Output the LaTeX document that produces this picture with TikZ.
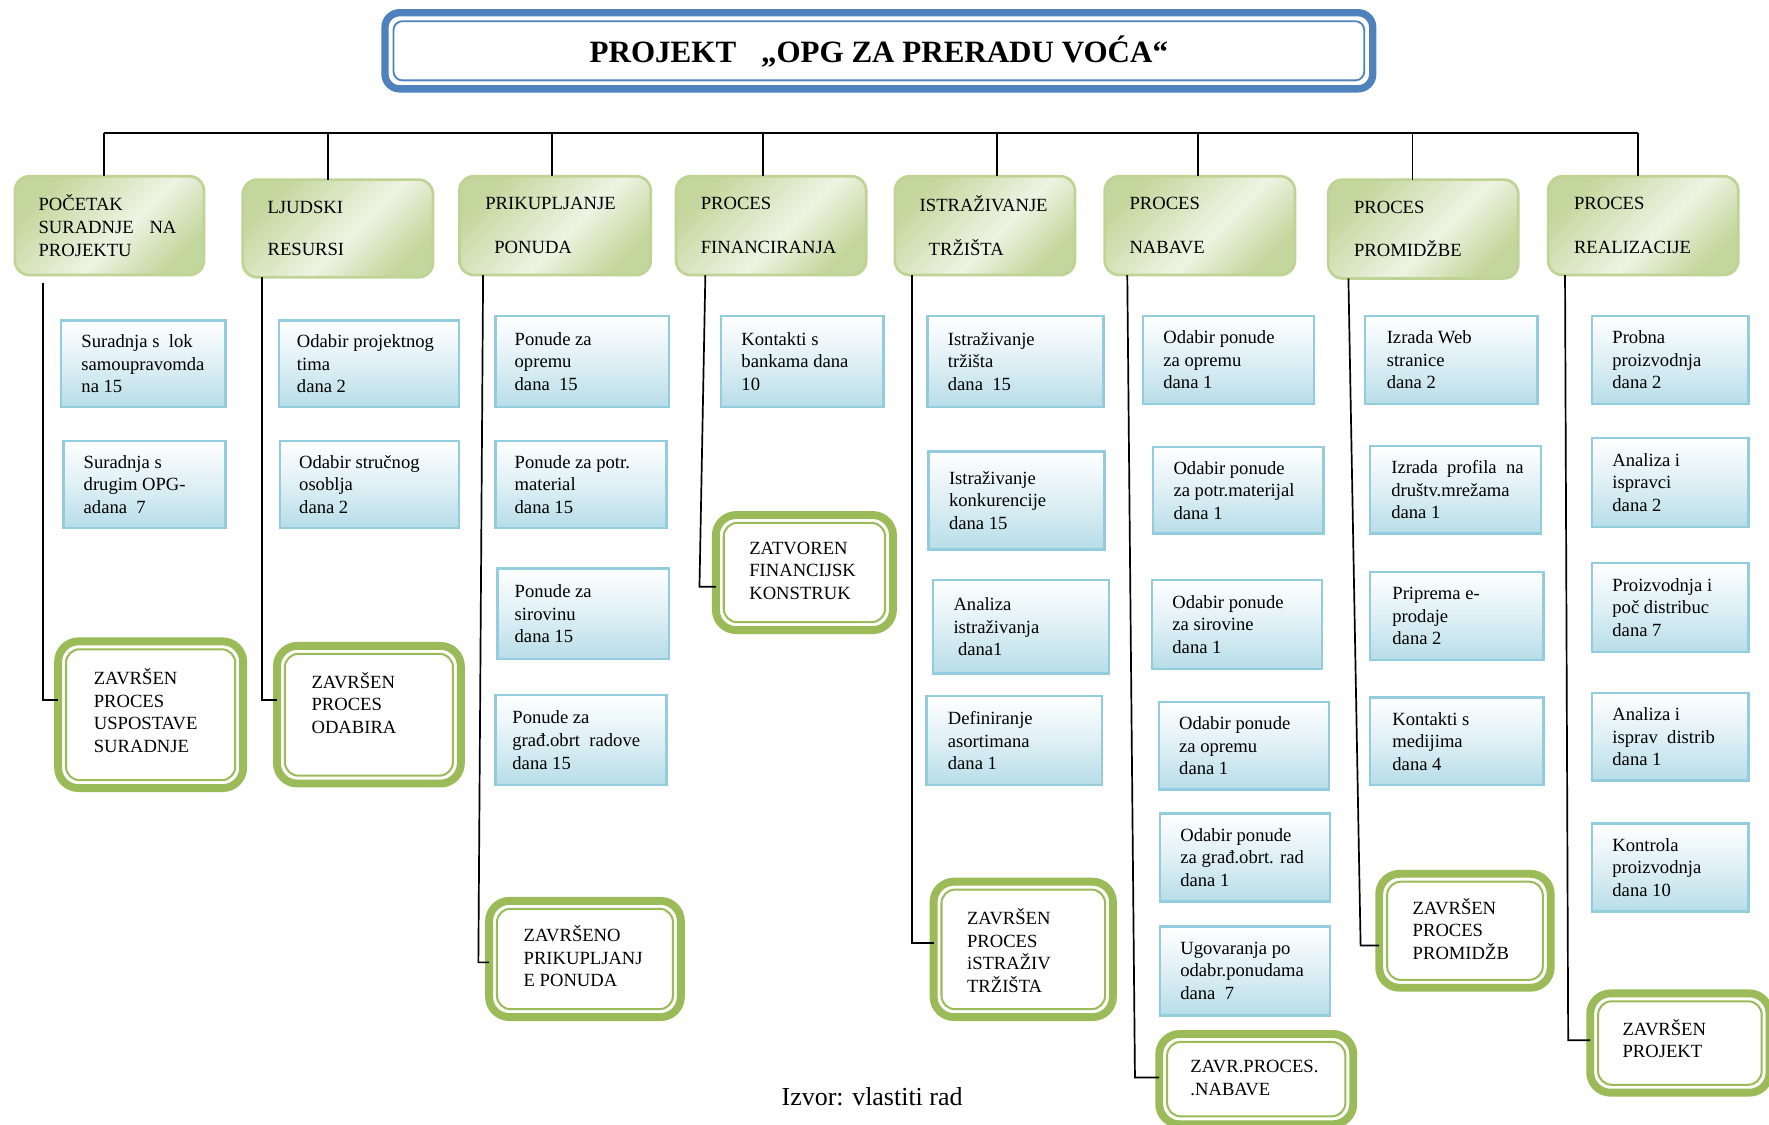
\documentclass[tikz,border=0pt]{standalone}
\usepackage{fontspec}
\setmainfont{Liberation Serif}
\usetikzlibrary{calc}
\definecolor{tblue}{HTML}{4F81BD}
\definecolor{hdrA}{HTML}{C3D69B}
\definecolor{hdrB}{HTML}{EEF3E3}
\definecolor{hdrLine}{HTML}{BFD494}
\definecolor{bxLine}{HTML}{93CDDD}
\definecolor{bxBot}{HTML}{B7DDE8}
\definecolor{fgreen}{HTML}{9BBB59}
\pgfdeclarehorizontalshading{hdrshade}{100bp}{color(0bp)=(hdrA); color(25bp)=(hdrA); color(55bp)=(hdrB); color(75bp)=(hdrA); color(100bp)=(hdrA)}
\newcommand\bxfont{\fontsize{16.5}{20}\selectfont}
\tikzset{
  conn/.style={line width=1.5pt, black},
  hdrbox/.style={rectangle, rounded corners=13pt, draw=hdrLine, line width=2.4pt, shade, shading=hdrshade, shading angle=-45, inner sep=0pt, outer sep=0pt},
  taskbox/.style={rectangle, draw=bxLine, line width=2.2pt, top color=white, bottom color=bxBot, middle color=bxBot!45!white, inner sep=0pt, outer sep=0pt},
  finbox/.style={rectangle, rounded corners=18pt, draw=fgreen, line width=7pt, fill=white, inner sep=0pt, outer sep=0pt},
  fininner/.style={draw=fgreen, line width=1.8pt, rounded corners=12pt},
  titlebox/.style={rectangle, rounded corners=13pt, draw=tblue, line width=6.5pt, fill=white, inner sep=0pt, outer sep=0pt},
  titleinner/.style={draw=tblue, line width=1.6pt, rounded corners=8pt},
  txt/.style={font=\bxfont, align=left, inner sep=0pt, anchor=west, text=black},
}
% name x1 y1 x2 y2 textx text
\newcommand\HdrBox[7]{%
  \node[hdrbox, minimum width={(#4-#2-2.4)*1pt}, minimum height={(#5-#3-2.4)*1pt}] (#1) at ({(#2+#4)/2},{(#3+#5)/2}) {};
  \node[txt] (#1t) at (#6,{(#3+#5)/2}) {#7};}
\newcommand\TaskBox[7]{%
  \node[taskbox, minimum width={(#4-#2-2.2)*1pt}, minimum height={(#5-#3-2.2)*1pt}] (#1) at ({(#2+#4)/2},{(#3+#5)/2}) {};
  \node[txt] (#1t) at (#6,{(#3+#5)/2}) {#7};}
% name x1 y1 x2 y2 textx texty text
\newcommand\FinBox[8]{%
  \node[finbox, minimum width={(#4-#2-7)*1pt}, minimum height={(#5-#3-7)*1pt}] (#1) at ({(#2+#4)/2},{(#3+#5)/2}) {};
  \draw[fininner] ([shift={(7,7)}]#1.north west) rectangle ([shift={(-7,-7)}]#1.south east);
  \node[txt] (#1t) at (#6,#7) {#8};}
\begin{document}
\begin{tikzpicture}[x=1pt,y=-1pt]
\useasboundingbox (0,0) rectangle (1568,997);

% title
\node[titlebox, minimum width=875.5pt, minimum height=67.5pt] (title) at (779,45) {};
\draw[titleinner] ([shift={(7.5,7.5)}]title.north west) rectangle ([shift={(-7.5,-7.5)}]title.south east);
\node[font=\fontsize{27.5}{30}\selectfont\bfseries, inner sep=0pt] (titlet) at (779,46) {PROJEKT\hspace{22pt}„OPG ZA PRERADU VOĆA“};

% headers
\HdrBox{h1}{12}{155}{182}{245}{34}{POČETAK\\SURADNJE\hspace{14pt}NA\\PROJEKTU}
\HdrBox{h2}{214}{158}{385}{247}{237}{LJUDSKI\\[18pt]RESURSI}
\HdrBox{h3}{406}{155}{578}{245}{430}{PRIKUPLJANJE\\[19pt]\hspace*{8pt}PONUDA}
\HdrBox{h4}{598}{155}{769}{245}{621}{PROCES\\[19pt]FINANCIRANJA}
\HdrBox{h5}{792}{155}{954}{245}{815}{ISTRAŽIVANJE\\[19pt]\hspace*{8pt}TRŽIŠTA}
\HdrBox{h6}{978}{155}{1149}{245}{1001}{PROCES\\[19pt]NABAVE}
\HdrBox{h7}{1176}{158}{1347}{248}{1200}{PROCES\\[18pt]PROMIDŽBE}
\HdrBox{h8}{1371}{155}{1542}{245}{1395}{PROCES\\[19pt]REALIZACIJE}

% bus and ticks
\coordinate (busL) at (92,118);
\coordinate (busR) at (1452,118);
\coordinate (t2) at (291,118);
\coordinate (t3) at (489,118);
\coordinate (t4) at (676,118);
\coordinate (t5) at (884,118);
\coordinate (t6) at (1062,118);
\coordinate (t7) at (1252,118);
\draw[conn] (busL) -- (busR);
\draw[conn] (busL) -- (busL |- h1.north);
\draw[conn] (t2) -- (t2 |- h2.north);
\draw[conn] (t3) -- (t3 |- h3.north);
\draw[conn] (t4) -- (t4 |- h4.north);
\draw[conn] (t5) -- (t5 |- h5.north);
\draw[conn] (t6) -- (t6 |- h6.north);
\draw[conn] (t7) -- (t7 |- h7.north);
\draw[conn] (busR) -- (busR |- h8.north);

% column 1
\TaskBox{b11}{53}{283}{201}{362}{72}{Suradnja s\ \ lok\\samoupravomda\\na 15}
\TaskBox{b12}{55}{390}{201}{469}{74}{Suradnja s\\drugim OPG-\\adana\ \ 7}
% column 2
\TaskBox{b21}{246}{283}{408}{362}{263}{Odabir projektnog\\tima\\dana 2}
\TaskBox{b22}{247}{390}{408}{469}{265}{Odabir stručnog\\osoblja\\dana 2}
% column 3
\TaskBox{b31}{438}{279}{594}{362}{456}{Ponude za\\opremu\\dana\ \ 15}
\TaskBox{b32}{438}{390}{592}{469}{456}{Ponude za potr.\\material\\dana 15}
\TaskBox{b33}{440}{503}{594}{585}{456}{Ponude za\\sirovinu\\dana 15}
\TaskBox{b34}{438}{615}{592}{697}{454}{Ponude za\\građ.obrt\ \ radove\\dana 15}
% column 4
\TaskBox{b41}{638}{279}{784}{362}{657}{Kontakti s\\bankama dana\\10}
% column 5
\TaskBox{b51}{821}{279}{979}{362}{840}{Istraživanje\\tržišta\\dana\ \ 15}
\TaskBox{b52}{822}{399}{980}{488}{841}{Istraživanje\\konkurencije\\dana 15}
\TaskBox{b53}{826}{513}{984}{598}{845}{Analiza\\istraživanja\\\hspace*{4pt}dana1}
\TaskBox{b54}{820}{616}{978}{697}{840}{Definiranje\\asortimana\\dana 1}
% column 6
\TaskBox{b61}{1012}{279}{1166}{359}{1031}{Odabir ponude\\za opremu\\dana 1}
\TaskBox{b62}{1021}{395}{1174}{474}{1040}{Odabir ponude\\za potr.materijal\\dana 1}
\TaskBox{b63}{1020}{513}{1173}{594}{1039}{Odabir ponude\\za sirovine\\dana 1}
\TaskBox{b64}{1026}{621}{1179}{701}{1045}{Odabir ponude\\za opremu\\dana 1}
\TaskBox{b65}{1027}{720}{1180}{800}{1046}{Odabir ponude\\za građ.obrt. rad\\dana 1}
\TaskBox{b66}{1027}{820}{1180}{901}{1046}{Ugovaranja po\\odabr.ponudama\\dana\ \ 7}
% column 7
\TaskBox{b71}{1209}{279}{1364}{359}{1229}{Izrada Web\\stranice\\dana 2}
\TaskBox{b72}{1213}{394}{1367}{474}{1233}{Izrada\ \ profila\ \ na\\društv.mrežama\\dana 1}
\TaskBox{b73}{1213}{506}{1369}{586}{1234}{Priprema e-\\prodaje\\dana 2}
\TaskBox{b74}{1213}{617}{1369}{697}{1234}{Kontakti s\\medijima\\dana 4}
% column 8
\TaskBox{b81}{1410}{279}{1551}{359}{1429}{Probna\\proizvodnja\\dana 2}
\TaskBox{b82}{1410}{387}{1551}{468}{1429}{Analiza i\\ispravci\\dana 2}
\TaskBox{b83}{1410}{498}{1551}{579}{1429}{Proizvodnja i\\poč distribuc\\dana 7}
\TaskBox{b84}{1410}{613}{1551}{693}{1429}{Analiza i\\isprav\ \ distrib\\dana 1}
\TaskBox{b85}{1410}{729}{1551}{809}{1429}{Kontrola\\proizvodnja\\dana 10}

% finish boxes
\FinBox{f1}{48}{565}{219}{702}{83}{630}{ZAVRŠEN\\PROCES\\USPOSTAVE\\SURADNJE}
\FinBox{f2}{242}{569}{412}{698}{276}{623}{ZAVRŠEN\\PROCES\\ODABIRA}
\FinBox{f3}{430}{795}{607}{905}{464}{847.5}{ZAVRŠENO\\PRIKUPLJANJ\\E PONUDA}
\FinBox{f4}{631}{453}{795}{562}{664}{506}{ZATVOREN\\FINANCIJSK\\KONSTRUK}
\FinBox{f5}{824}{778}{990}{905}{857}{842.5}{ZAVRŠEN\\PROCES\\iSTRAŽIV\\TRŽIŠTA}
\FinBox{f6}{1024}{913}{1203}{1000}{1055}{955.5}{ZAVR.PROCES.\\.NABAVE}
\FinBox{f7}{1219}{771}{1378}{879}{1252}{823.5}{ZAVRŠEN\\PROCES\\PROMIDŽB}
\FinBox{f8}{1406}{877}{1572}{972}{1438}{920.5}{ZAVRŠEN\\PROJEKT}

% column connectors
\draw[conn] ([shift={(25,7)}]h1.south west) |- ([shift={(0,-13)}]f1.west);
\draw[conn] ([shift={(17,0)}]h2.south west) |- ([shift={(0,-13)}]f2.west);
\draw[conn] ([shift={(21,0)}]h3.south west) -- ([shift={(-9.5,3)}]f3.west) -- ([shift={(0,3)}]f3.west);
\draw[conn] ([shift={(26,0)}]h4.south west) -- ([shift={(-14.5,12.5)}]f4.west) -- ([shift={(0,12.5)}]f4.west);
\draw[conn] ([shift={(15,0)}]h5.south west) |- ([shift={(0,-5.5)}]f5.west);
\draw[conn] ([shift={(20,0)}]h6.south west) -- ([shift={(-21.5,-1.5)}]f6.west) -- ([shift={(0,-1.5)}]f6.west);
\draw[conn] ([shift={(18,0)}]h7.south west) -- ([shift={(-16.5,13)}]f7.west) -- ([shift={(0,13)}]f7.west);
\draw[conn] ([shift={(15,0)}]h8.south west) -- ([shift={(-19.5,-2.5)}]f8.west) -- ([shift={(0,-2.5)}]f8.west);

% caption
\node[font=\fontsize{23}{26}\selectfont, inner sep=0pt] (src) at (773,972) {Izvor: vlastiti rad};
\end{tikzpicture}
\end{document}
